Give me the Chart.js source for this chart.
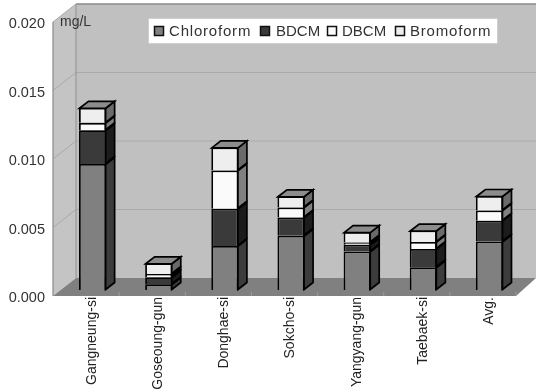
<!DOCTYPE html>
<html><head><meta charset="utf-8">
<script src="https://cdn.jsdelivr.net/npm/chart.js@4"></script>
<style>html,body{margin:0;padding:0;background:#fff}canvas{display:block}</style>
</head><body><canvas id="c" width="536" height="389" style="width:536px;height:389px"></canvas>
<script>
const categories = ["Gangneung-si","Goseoung-gun","Donghae-si","Sokcho-si","Yangyang-gun","Taebaek-si","Avg."];
const chloroform = [0.0092,0.00042,0.00322,0.00396,0.00281,0.00166,0.00354];
const bdcm       = [0.00246,0.00051,0.00271,0.00134,0.00049,0.00134,0.00152];
const dbcm       = [0.00054,0.00024,0.0028,0.00073,0.00017,0.00051,0.00075];
const bromoform  = [0.0011,0.00078,0.00168,0.00081,0.00076,0.00083,0.00105];
const yTicks = [0,0.005,0.01,0.015,0.02];
const unit = "mg/L";
const FONT = '"Liberation Sans", Arial, sans-serif';
const DX = 23, DY = -18, BX = 6.5, BY = -6, SX = 9, SY = -7;

const poly = (ctx, pts, fill, stroke, lw) => {
  ctx.beginPath();
  pts.forEach((p,i)=> i ? ctx.lineTo(p[0],p[1]) : ctx.moveTo(p[0],p[1]));
  ctx.closePath();
  if (fill) { ctx.fillStyle = fill; ctx.fill(); }
  if (stroke) { ctx.strokeStyle = stroke; ctx.lineWidth = lw||1; ctx.stroke(); }
};
const line = (ctx,x1,y1,x2,y2,c,w) => { ctx.beginPath(); ctx.moveTo(x1,y1); ctx.lineTo(x2,y2); ctx.strokeStyle=c; ctx.lineWidth=w||1; ctx.stroke(); };

const walls = {
  id:'walls',
  beforeDatasetsDraw(chart){
    const {ctx, chartArea:a, scales:{x,y}} = chart;
    ctx.save();
    const W = chart.width;
    poly(ctx,[[a.left+DX,a.top+DY],[W,a.top+DY],[W,a.bottom+DY],[a.left+DX,a.bottom+DY]],'#c0c0c0');
    poly(ctx,[[a.left,a.top],[a.left+DX,a.top+DY],[a.left+DX,a.bottom+DY],[a.left,a.bottom]],'#c4c4c4');
    poly(ctx,[[a.left,a.bottom],[a.left+DX,a.bottom+DY],[W,a.bottom+DY],[a.right,a.bottom]],'#808080');
    yTicks.forEach(v=>{
      const p = y.getPixelForValue(v);
      if (v>0 && v<0.02) line(ctx,a.left+DX,p+DY,W,p+DY,'#aaaaaa',1.2);
      if (v>0) line(ctx,a.left,p,a.left+DX,p+DY,'#a8a8a8',1);
    });
    line(ctx,a.left+DX,a.top+DY,W,a.top+DY,'#8a8a8a',1.3);
    line(ctx,a.left+DX,a.top+DY,a.left+DX,a.bottom+DY,'#999999',1.2);
    line(ctx,a.left,a.top,a.left,a.bottom,'#8a8a8a',1.2);
    const step = (a.right-a.left)/categories.length;
    for(let i=1;i<=categories.length;i++){
      line(ctx,a.left+step*i,a.bottom-4,a.left+step*i,a.bottom,'#9a9a9a',1);
    }
    ctx.restore();
  },
  beforeDatasetDraw(chart){ chart.ctx.save(); chart.ctx.translate(BX,BY); },
  afterDatasetDraw(chart,args){
    const ctx = chart.ctx, ds = chart.data.datasets[args.index];
    const top = args.index === chart.data.datasets.length-1;
    args.meta.data.forEach(b=>{
      const p = b.getProps(['x','y','base','width'],true);
      const l = p.x-p.width/2+0.5, r = p.x+p.width/2-0.5, t = p.y+0.5, bt = p.base-0.5;
      poly(ctx,[[r,bt],[r+SX,bt+SY],[r+SX,t+SY],[r,t]],ds.sideColor,'#000',1.7);
      if (top) poly(ctx,[[l,t],[l+SX,t+SY],[r+SX,t+SY],[r,t]],'#8c8c8c','#000',1.7);
    });
    ctx.restore();
  },
  afterDraw(chart){
    const {ctx} = chart;
    ctx.save();
    ctx.fillStyle='#333';
    ctx.font='14px '+FONT; ctx.textAlign='left'; ctx.textBaseline='middle';
    ctx.fillText(unit,60,22);
    poly(ctx,[[148.5,18.5],[497.5,18.5],[497.5,43.5],[148.5,43.5]],'#fff','#cfcfcf',1);
    const xs = [[154,169],[260,276],[327,342],[395,410]];
    chart.data.datasets.forEach((d,i)=>{
      poly(ctx,[[xs[i][0]+.5,26.5],[xs[i][0]+9.5,26.5],[xs[i][0]+9.5,35.5],[xs[i][0]+.5,35.5]],d.backgroundColor,'#111',1.5);
      ctx.fillStyle='#333';
      ctx.font='15px '+FONT; ctx.letterSpacing = d.label.length>4 ? '0.8px':'0px';
      ctx.fillText(d.label,xs[i][1],32);
    });
    ctx.restore();
  }
};

const mk = (label,data,bg,side)=>({label,data,backgroundColor:bg,sideColor:side,borderColor:'#000',borderWidth:1.8,barPercentage:0.41,categoryPercentage:1,clip:false});
new Chart(document.getElementById('c'),{
  type:'bar',
  data:{labels:categories,datasets:[
    mk('Chloroform',chloroform,'#808080','#3c3c3c'),
    mk('BDCM',bdcm,'#3a3a3a','#1c1c1c'),
    mk('DBCM',dbcm,'#fafafa','#808080'),
    mk('Bromoform',bromoform,'#eeeeee','#6a6a6a')
  ]},
  plugins:[walls],
  options:{
    responsive:false,animation:false,
    layout:{padding:{top:22,right:20,left:0,bottom:0}},
    plugins:{legend:{display:false},tooltip:{enabled:false}},
    scales:{
      x:{stacked:true,grid:{display:false,drawTicks:false},border:{display:false},
        afterFit(s){s.height=93;},
        ticks:{color:'#222',font:{family:FONT,size:14},minRotation:90,maxRotation:90,labelOffset:6,padding:1,autoSkip:false}},
      y:{stacked:true,min:0,max:0.02,grid:{display:false,drawTicks:false},border:{display:false},
        afterFit(s){s.width=53;},
        afterBuildTicks(s){s.ticks=yTicks.map(v=>({value:v}));},
        ticks:{color:'#333',font:{family:FONT,size:14.5},padding:8,labelOffset:2,callback:v=>v.toFixed(3)}}
    }
  }
});
</script></body></html>
